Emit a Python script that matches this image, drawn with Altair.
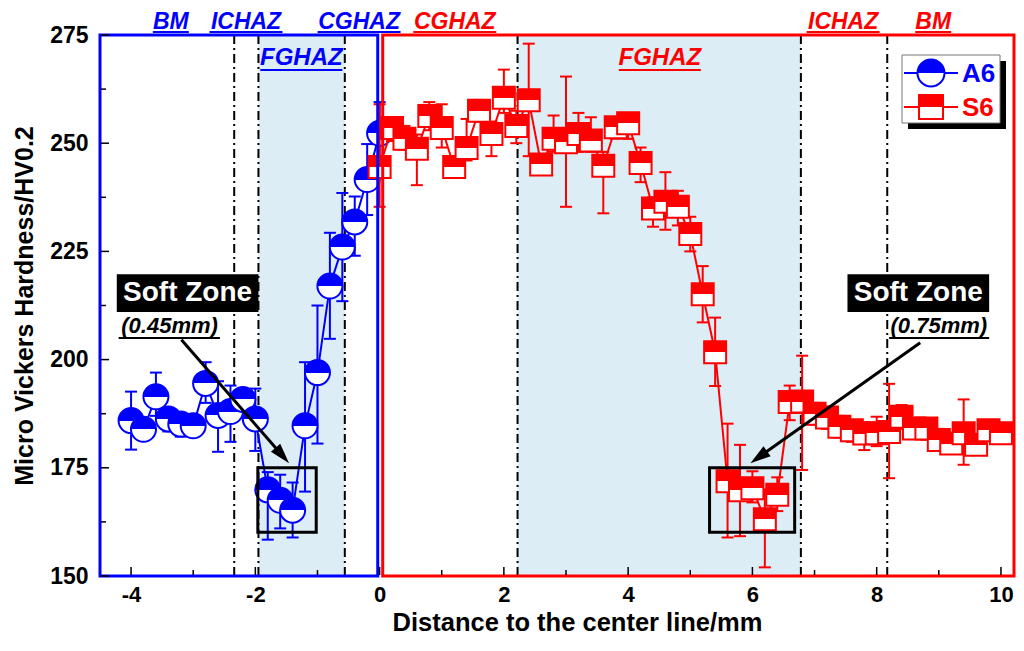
import math
import altair as alt
import pandas as pd

# ---------------- data ----------------
a6_x = [-4.0, -3.8, -3.6, -3.4, -3.2, -3.0, -2.8, -2.6, -2.4, -2.2, -2.0,
        -1.8, -1.6, -1.4, -1.2, -1.0, -0.8, -0.6, -0.4, -0.2, 0.0]
a6_hv = [185.9, 183.9, 191.4, 186.3, 185.1, 184.7, 194.5, 187.1, 188.0, 190.8, 186.3,
         169.9, 167.5, 165.2, 184.7, 197.0, 217.0, 226.0, 231.8, 241.6, 252.3]
a6_lo = [179.2, 181.4, 187.0, 183.4, 182.2, 182.2, 190.0, 178.7, 181.0, 188.0, 178.9,
         158.4, 161.0, 158.9, 169.5, 180.6, 204.8, 213.5, 224.0, 233.4, 244.9]
a6_hi = [192.6, 186.0, 197.0, 188.0, 187.0, 186.0, 199.4, 195.0, 194.0, 192.9, 193.3,
         174.0, 173.4, 171.6, 199.4, 212.5, 229.3, 238.5, 237.7, 249.8, 259.5]

s6_x = [0.0, 0.2, 0.4, 0.6, 0.8, 1.0, 1.2, 1.4, 1.6, 1.8, 2.0, 2.2, 2.4, 2.6, 2.8,
        3.0, 3.2, 3.4, 3.6, 3.8, 4.0, 4.2, 4.4, 4.6, 4.8, 5.0, 5.2, 5.4, 5.6, 5.8,
        6.0, 6.2, 6.4, 6.6, 6.8, 7.0, 7.2, 7.4, 7.6, 7.8, 8.0, 8.2, 8.4, 8.6, 8.8,
        9.0, 9.2, 9.4, 9.6, 9.8, 10.0]
s6_hv = [244.5, 253.5, 251.0, 248.7, 256.3, 253.5, 244.5, 248.9, 257.5, 252.1, 260.5,
         254.0, 259.9, 245.1, 251.0, 250.2, 252.1, 250.6, 244.8, 253.7, 254.6, 245.4,
         234.9, 236.5, 235.3, 229.0, 215.1, 201.7, 171.9, 169.8, 170.3, 163.1, 168.8,
         190.2, 190.3, 187.5, 186.6, 184.5, 183.7, 182.9, 183.0, 183.3, 186.8, 184.1,
         184.1, 181.4, 180.6, 183.0, 180.3, 183.7, 183.0]
s6_lo = [235.3, 250.5, 248.5, 240.3, 253.0, 249.0, 243.0, 246.0, 255.0, 247.0, 257.0,
         250.0, 247.0, 243.5, 248.0, 235.3, 248.0, 248.0, 233.8, 251.0, 251.0, 241.0,
         230.7, 230.0, 231.0, 225.0, 208.6, 193.9, 158.9, 159.2, 167.0, 152.0, 165.0,
         186.0, 174.5, 185.0, 184.0, 182.0, 181.0, 179.1, 180.0, 172.6, 184.0, 182.0,
         181.5, 179.0, 178.5, 175.7, 178.5, 181.5, 181.0]
s6_hi = [259.0, 256.0, 254.0, 252.0, 259.5, 259.0, 247.0, 255.6, 260.0, 255.0, 267.0,
         257.5, 273.0, 247.0, 256.4, 265.4, 257.0, 256.0, 248.0, 255.5, 256.5, 249.0,
         237.5, 243.3, 239.0, 233.0, 221.6, 209.7, 185.2, 180.3, 174.2, 170.0, 172.8,
         194.0, 200.9, 190.0, 189.0, 187.0, 186.0, 185.5, 186.8, 194.4, 189.5, 186.5,
         186.5, 184.0, 183.0, 190.8, 182.5, 186.0, 185.0]

series_names = ["A6", "S6"]
x_major_ticks = [-4, -2, 0, 2, 4, 6, 8, 10]
x_minor_ticks = [-3, -1, 1, 3, 5, 7, 9]
y_major_ticks = [150, 175, 200, 225, 250, 275]
y_minor_ticks = [162.5, 187.5, 212.5, 237.5, 262.5]
x_title = "Distance to the center line/mm"
y_title = "Micro Vickers Hardness/HV0.2"

# zone boundaries (mm)
zone_lines = [-2.34, -1.95, -0.56, 2.22, 6.78, 8.17]
fg_start = [-1.95, 2.22]
fg_end = [-0.56, 6.78]

top_labels = ["BM", "ICHAZ", "CGHAZ", "CGHAZ", "ICHAZ", "BM"]
top_label_x = [-3.36, -2.15, -0.33, 1.21, 7.46, 8.91]
top_label_side = ["A6", "A6", "A6", "S6", "S6", "S6"]
fg_label_x = [-1.26, 4.51]

soft_box_x0 = [-1.96, 5.31]
soft_box_x1 = [-1.02, 6.68]
soft_box_y0 = [160.1, 160.1]
soft_box_y1 = [175.0, 175.0]
soft_width = ["(0.45mm)", "(0.75mm)"]

# ---------------- layout / style ----------------
W, H = 914, 541
XMIN, XMAX = -4.50, 10.21
YMIN, YMAX = 150, 275
PX = W / (XMAX - XMIN)
PY = H / (YMAX - YMIN)
BLUE = "#0000FF"
RED = "#FF0000"
SHADE = "#DDEDF6"
FONT = "Liberation Sans"
COLORS = {"A6": BLUE, "S6": RED}


def half_grad(col):
    return {"gradient": "linear", "x1": 0, "y1": 0, "x2": 0, "y2": 1,
            "stops": [{"offset": 0, "color": col}, {"offset": 0.5, "color": col},
                      {"offset": 0.5, "color": "white"}, {"offset": 1, "color": "white"}]}


xscale = alt.Scale(domain=[XMIN, XMAX], nice=False, zero=False)
yscale = alt.Scale(domain=[YMIN, YMAX], nice=False, zero=False)
xaxis = alt.Axis(values=x_major_ticks, ticks=False, domain=False, grid=False,
                 labelFont=FONT, labelFontWeight="bold", labelFontSize=22, labelColor="black",
                 labelPadding=8, labelFlush=False,
                 labelExpr="datum.value < 0 ? '-' + abs(datum.value) : '' + datum.value",
                 title=x_title, titleFont=FONT, titleFontWeight="bold", titleFontSize=25.5,
                 titleColor="black", titleX=477, titleY=46, titleAlign="center",
                 titleBaseline="middle")
yaxis = alt.Axis(values=y_major_ticks, ticks=False, domain=False, grid=False,
                 labelFont=FONT, labelFontWeight="bold", labelFontSize=23, labelColor="black",
                 labelPadding=12, labelFlush=False,
                 title=y_title, titleFont=FONT, titleFontWeight="bold", titleFontSize=25,
                 titleColor="black", titleX=-76, titleY=H / 2, titleAngle=270,
                 titleAlign="center", titleBaseline="middle")


def X(f):
    return alt.X(f, type="quantitative", scale=xscale, axis=xaxis)


def Y(f):
    return alt.Y(f, type="quantitative", scale=yscale, axis=yaxis)


a6 = pd.DataFrame({"x": a6_x, "hv": a6_hv, "lo": a6_lo, "hi": a6_hi})
s6 = pd.DataFrame({"x": s6_x, "hv": s6_hv, "lo": s6_lo, "hi": s6_hi})

layers = []

# shaded FGHAZ regions
shade_df = pd.DataFrame({"x0": fg_start, "x1": fg_end})
layers.append(alt.Chart(shade_df).mark_rect(color=SHADE, opacity=1).encode(
    x=X("x0"), x2="x1", y=alt.value(0), y2=alt.value(H)))

# dash-dot zone boundaries
lines_df = pd.DataFrame({"x": zone_lines})
layers.append(alt.Chart(lines_df).mark_rule(color="black", strokeWidth=2,
                                            strokeDash=[9, 4, 2, 4]).encode(
    x=X("x"), y=alt.value(0), y2=alt.value(H)))


def series_layers(df, col, shape, size):
    out = []
    out.append(alt.Chart(df).mark_rule(color=col, strokeWidth=2).encode(
        x=X("x"), y=Y("lo"), y2="hi"))
    out.append(alt.Chart(df).mark_tick(color=col, orient="horizontal", size=12,
                                       thickness=2, opacity=1).encode(x=X("x"), y=Y("lo")))
    out.append(alt.Chart(df).mark_tick(color=col, orient="horizontal", size=12,
                                       thickness=2, opacity=1).encode(x=X("x"), y=Y("hi")))
    out.append(alt.Chart(df).mark_line(color=col, strokeWidth=2).encode(
        x=X("x"), y=Y("hv")))
    out.append(alt.Chart(df).mark_point(shape=shape, filled=True, fill=half_grad(col),
                                        stroke=col, strokeWidth=2, size=size,
                                        opacity=1).encode(x=X("x"), y=Y("hv")))
    return out


layers += series_layers(a6, BLUE, "circle", 625)
layers += series_layers(s6, RED, "square", 484)

# soft zone boxes
soft_df = pd.DataFrame({"x0": soft_box_x0, "x1": soft_box_x1,
                        "y0": soft_box_y0, "y1": soft_box_y1})
layers.append(alt.Chart(soft_df).mark_rect(filled=False, stroke="black",
                                           strokeWidth=3).encode(
    x=X("x0"), x2="x1", y=Y("y0"), y2="y1"))

# soft zone labels
lab_df = pd.DataFrame({"bx0": [-4.23, 7.53], "bx1": [-1.95, 9.81],
                       "by0": [211.0, 211.0], "by1": [219.7, 219.7],
                       "cx": [-3.09, 8.67], "cy": [215.4, 215.4],
                       "t": ["Soft Zone", "Soft Zone"],
                       "sx": [-3.38, 9.0], "sy": [207.8, 207.8], "s": soft_width,
                       "ux0": [-4.20, 8.20], "ux1": [-2.57, 9.81], "uy": [205.0, 205.0]})
layers.append(alt.Chart(lab_df).mark_rect(color="black").encode(
    x=X("bx0"), x2="bx1", y=Y("by0"), y2="by1"))
layers.append(alt.Chart(lab_df).mark_text(color="white", font=FONT, fontWeight="bold",
                                          fontSize=28, baseline="middle").encode(
    x=X("cx"), y=Y("cy"), text="t"))
layers.append(alt.Chart(lab_df).mark_text(color="black", font=FONT, fontWeight="bold",
                                          fontStyle="italic", fontSize=22,
                                          baseline="middle").encode(
    x=X("sx"), y=Y("sy"), text="s"))
layers.append(alt.Chart(lab_df).mark_rule(color="black", strokeWidth=2).encode(
    x=X("ux0"), x2="ux1", y=Y("uy")))

# arrows
arr_x0 = [-3.19, 8.70]
arr_y0 = [204.6, 203.9]
arr_x1 = [-1.46, 5.97]
arr_y1 = [176.1, 176.1]
ARROW = "M0,-1L0.6,1L-0.6,1Z"
for x0, y0, x1, y1 in zip(arr_x0, arr_y0, arr_x1, arr_y1):
    dxp = (x1 - x0) * PX
    dyp = -(y1 - y0) * PY
    L = math.hypot(dxp, dyp)
    ux, uy = dxp / L, dyp / L
    ang = math.degrees(math.atan2(dxp, -dyp)) % 360
    hx = x1 - 10 * ux / PX
    hy = y1 + 10 * uy / PY
    adf = pd.DataFrame({"x0": [x0], "y0": [y0], "x1": [hx], "y1": [hy]})
    layers.append(alt.Chart(adf).mark_rule(color="black", strokeWidth=3).encode(
        x=X("x0"), x2="x1", y=Y("y0"), y2="y1"))
    layers.append(alt.Chart(adf).mark_point(shape=ARROW, filled=True, color="black",
                                            size=420, opacity=1, angle=ang).encode(
        x=X("x1"), y=Y("y1")))

# zone labels above / inside the plot
under_w = {"BM": 36, "ICHAZ": 73, "CGHAZ": 83, "FGHAZ": 82}
top_df = pd.DataFrame({"t": top_labels, "x": top_label_x,
                       "c": [COLORS[s] for s in top_label_side]})
top_df["u0"] = [x - under_w[t] / 2 / PX for x, t in zip(top_df.x, top_df.t)]
top_df["u1"] = [x + under_w[t] / 2 / PX for x, t in zip(top_df.x, top_df.t)]
layers.append(alt.Chart(top_df).mark_text(font=FONT, fontWeight="bold", fontStyle="italic",
                                          fontSize=23, baseline="middle").encode(
    x=X("x"), y=alt.value(-13.5), text="t", color=alt.Color("c:N", scale=None)))
layers.append(alt.Chart(top_df).mark_rule(strokeWidth=2).encode(
    x=X("u0"), x2="u1", y=alt.value(-3), color=alt.Color("c:N", scale=None)))

fg_df = pd.DataFrame({"t": ["FGHAZ", "FGHAZ"], "x": fg_label_x, "c": [BLUE, RED]})
fg_df["u0"] = [x - under_w["FGHAZ"] / 2 / PX for x in fg_df.x]
fg_df["u1"] = [x + under_w["FGHAZ"] / 2 / PX for x in fg_df.x]
layers.append(alt.Chart(fg_df).mark_text(font=FONT, fontWeight="bold", fontStyle="italic",
                                         fontSize=24, baseline="middle").encode(
    x=X("x"), y=alt.value(23), text="t", color=alt.Color("c:N", scale=None)))
layers.append(alt.Chart(fg_df).mark_rule(strokeWidth=2).encode(
    x=X("u0"), x2="u1", y=alt.value(35), color=alt.Color("c:N", scale=None)))

# frames
frame_df = pd.DataFrame({"x0": [XMIN, 0.05], "x1": [-0.03, XMAX],
                         "y0": [YMIN, YMIN], "y1": [YMAX, YMAX], "c": [BLUE, RED]})
layers.append(alt.Chart(frame_df).mark_rect(filled=False, strokeWidth=3).encode(
    x=X("x0"), x2="x1", y=Y("y0"), y2="y1", stroke=alt.Stroke("c:N", scale=None)))

# inward ticks
xt_major = pd.DataFrame({"v": x_major_ticks})
xt_minor = pd.DataFrame({"v": x_minor_ticks})
yt_major = pd.DataFrame({"v": y_major_ticks})
yt_minor = pd.DataFrame({"v": y_minor_ticks})
layers.append(alt.Chart(xt_major).mark_rule(color="black", strokeWidth=1.5).encode(
    x=X("v"), y=alt.value(H - 1), y2=alt.value(H - 9)))
layers.append(alt.Chart(xt_minor).mark_rule(color="black", strokeWidth=1.5).encode(
    x=X("v"), y=alt.value(H - 1), y2=alt.value(H - 6)))
layers.append(alt.Chart(yt_major).mark_rule(color="black", strokeWidth=1.5).encode(
    y=Y("v"), x=alt.value(1), x2=alt.value(9)))
layers.append(alt.Chart(yt_minor).mark_rule(color="black", strokeWidth=1.5).encode(
    y=Y("v"), x=alt.value(1), x2=alt.value(6)))

# legend (drawn by hand, framed box with shadow)
one = pd.DataFrame({"k": [0]})
layers.append(alt.Chart(one).mark_rect(color="black").encode(
    x=alt.value(808), x2=alt.value(906), y=alt.value(26), y2=alt.value(94)))
layers.append(alt.Chart(one).mark_rect(fill="white", stroke="#777777", strokeWidth=1).encode(
    x=alt.value(802), x2=alt.value(900), y=alt.value(20), y2=alt.value(88)))
for name, ly, shape, size in zip(series_names, [38, 72], ["circle", "square"], [729, 576]):
    col = COLORS[name]
    ldf = pd.DataFrame({"name": [name]})
    layers.append(alt.Chart(ldf).mark_rule(color=col, strokeWidth=2).encode(
        x=alt.value(804), x2=alt.value(858), y=alt.value(ly)))
    layers.append(alt.Chart(ldf).mark_point(shape=shape, filled=True, fill=half_grad(col),
                                            stroke=col, strokeWidth=2, size=size,
                                            opacity=1).encode(
        x=alt.value(831), y=alt.value(ly)))
    layers.append(alt.Chart(ldf).mark_text(color=col, font=FONT, fontWeight="bold",
                                           fontSize=26, align="left",
                                           baseline="middle").encode(
        x=alt.value(862), y=alt.value(ly + 1), text="name"))

chart = alt.layer(*layers).properties(
    width=W, height=H,
    padding={"left": 92, "top": 27, "right": 2, "bottom": 61},
    autosize=alt.AutoSizeParams(type="none"),
    background="white",
).configure_view(stroke=None)

chart.save("out.html", embed_options={"renderer": "svg", "actions": False})
